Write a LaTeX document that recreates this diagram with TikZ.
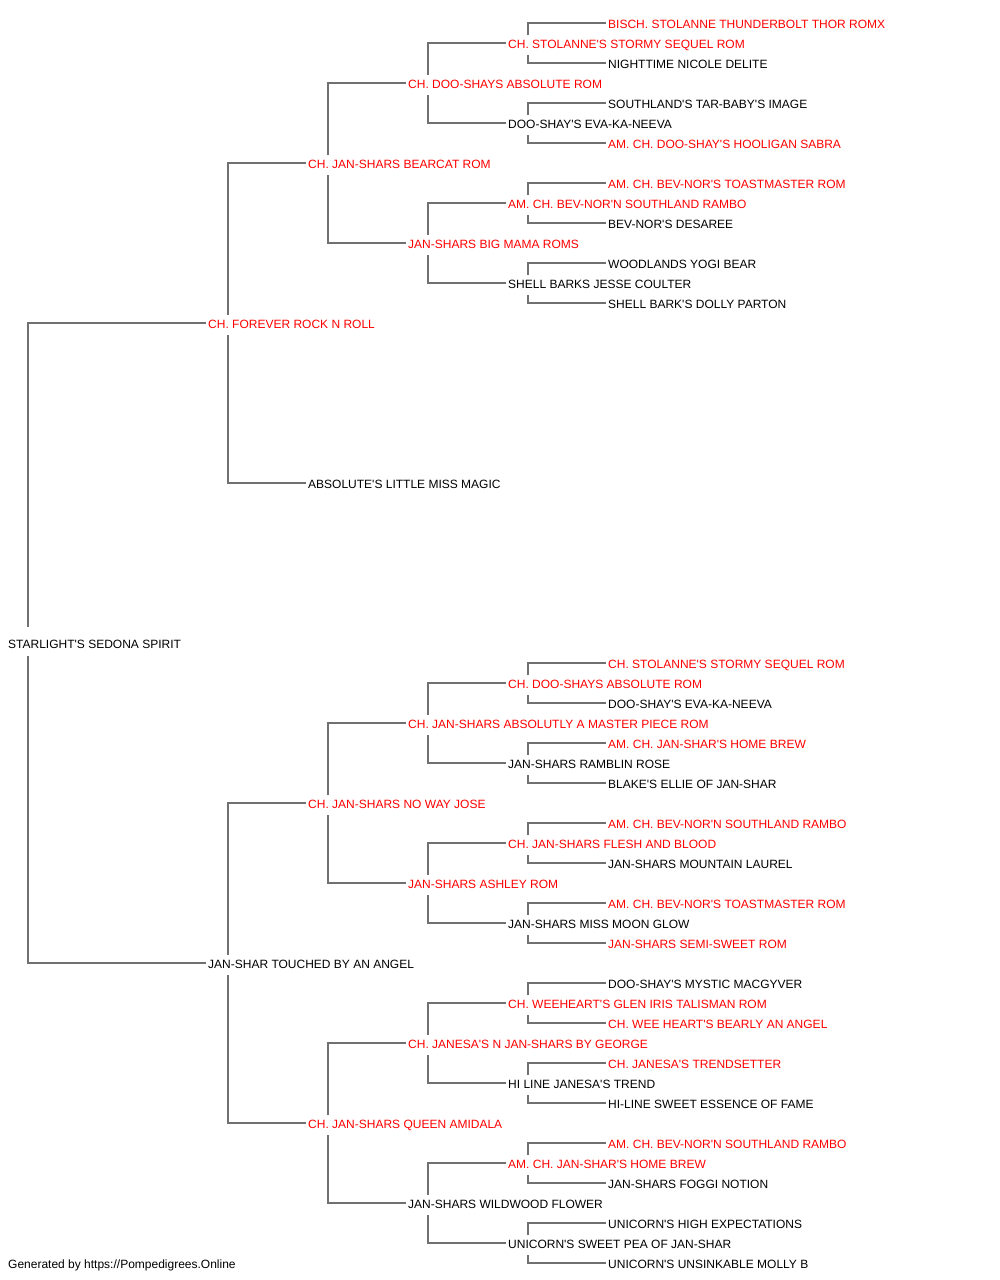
\documentclass[tikz,border=0pt]{standalone}
\usepackage{fontspec}
\setmainfont{Liberation Sans}[Ligatures=TeXOff]
\definecolor{champ}{RGB}{255,0,0}
\definecolor{linegray}{RGB}{112,112,112}

\begin{document}
\begin{tikzpicture}[x=1pt,y=-1pt,
  dog/.style={anchor=west,inner xsep=2pt,inner ysep=4pt,text height=9.3pt,text depth=2.7pt,font=\fontsize{12pt}{14pt}\selectfont},
  ch/.style={dog,text=champ},
  link/.style={draw=linegray,line width=2pt}]
  \useasboundingbox (0,0) rectangle (1000,1280);
  % generation 0 and 1
  \node[dog,text height=17.5pt] (root) at (6,641.5) {STARLIGHT'S SEDONA SPIRIT};
  \node[ch]  (s) at (206,325) {CH. FOREVER ROCK N ROLL};
  \node[dog] (d) at (206,965) {JAN-SHAR TOUCHED BY AN ANGEL};
  % generation 2
  \node[ch]  (ss) at (306,165)  {CH. JAN-SHARS BEARCAT ROM};
  \node[dog] (sd) at (306,485)  {ABSOLUTE'S LITTLE MISS MAGIC};
  \node[ch]  (ds) at (306,805)  {CH. JAN-SHARS NO WAY JOSE};
  \node[ch]  (dd) at (306,1125) {CH. JAN-SHARS QUEEN AMIDALA};
  % generation 3
  \node[ch]  (sss) at (406,85)   {CH. DOO-SHAYS ABSOLUTE ROM};
  \node[ch]  (ssd) at (406,245)  {JAN-SHARS BIG MAMA ROMS};
  \node[ch]  (dss) at (406,725)  {CH. JAN-SHARS ABSOLUTLY A MASTER PIECE ROM};
  \node[ch]  (dsd) at (406,885)  {JAN-SHARS ASHLEY ROM};
  \node[ch]  (dds) at (406,1045) {CH. JANESA'S N JAN-SHARS BY GEORGE};
  \node[dog] (ddd) at (406,1205) {JAN-SHARS WILDWOOD FLOWER};
  % generation 4
  \node[ch]  (ssss) at (506,45)   {CH. STOLANNE'S STORMY SEQUEL ROM};
  \node[dog] (sssd) at (506,125)  {DOO-SHAY'S EVA-KA-NEEVA};
  \node[ch]  (ssds) at (506,205)  {AM. CH. BEV-NOR'N SOUTHLAND RAMBO};
  \node[dog] (ssdd) at (506,285)  {SHELL BARKS JESSE COULTER};
  \node[ch]  (dsss) at (506,685)  {CH. DOO-SHAYS ABSOLUTE ROM};
  \node[dog] (dssd) at (506,765)  {JAN-SHARS RAMBLIN ROSE};
  \node[ch]  (dsds) at (506,845)  {CH. JAN-SHARS FLESH AND BLOOD};
  \node[dog] (dsdd) at (506,925)  {JAN-SHARS MISS MOON GLOW};
  \node[ch]  (ddss) at (506,1005) {CH. WEEHEART'S GLEN IRIS TALISMAN ROM};
  \node[dog] (ddsd) at (506,1085) {HI LINE JANESA'S TREND};
  \node[ch]  (ddds) at (506,1165) {AM. CH. JAN-SHAR'S HOME BREW};
  \node[dog] (dddd) at (506,1245) {UNICORN'S SWEET PEA OF JAN-SHAR};
  % generation 5
  \node[ch]  (sssss) at (606,25)   {BISCH. STOLANNE THUNDERBOLT THOR ROMX};
  \node[dog] (ssssd) at (606,65)   {NIGHTTIME NICOLE DELITE};
  \node[dog] (sssds) at (606,105)  {SOUTHLAND'S TAR-BABY'S IMAGE};
  \node[ch]  (sssdd) at (606,145)  {AM. CH. DOO-SHAY'S HOOLIGAN SABRA};
  \node[ch]  (ssdss) at (606,185)  {AM. CH. BEV-NOR'S TOASTMASTER ROM};
  \node[dog] (ssdsd) at (606,225)  {BEV-NOR'S DESAREE};
  \node[dog] (ssdds) at (606,265)  {WOODLANDS YOGI BEAR};
  \node[dog] (ssddd) at (606,305)  {SHELL BARK'S DOLLY PARTON};
  \node[ch]  (dssss) at (606,665)  {CH. STOLANNE'S STORMY SEQUEL ROM};
  \node[dog] (dsssd) at (606,705)  {DOO-SHAY'S EVA-KA-NEEVA};
  \node[ch]  (dssds) at (606,745)  {AM. CH. JAN-SHAR'S HOME BREW};
  \node[dog] (dssdd) at (606,785)  {BLAKE'S ELLIE OF JAN-SHAR};
  \node[ch]  (dsdss) at (606,825)  {AM. CH. BEV-NOR'N SOUTHLAND RAMBO};
  \node[dog] (dsdsd) at (606,865)  {JAN-SHARS MOUNTAIN LAUREL};
  \node[ch]  (dsdds) at (606,905)  {AM. CH. BEV-NOR'S TOASTMASTER ROM};
  \node[ch]  (dsddd) at (606,945)  {JAN-SHARS SEMI-SWEET ROM};
  \node[dog] (ddsss) at (606,985)  {DOO-SHAY'S MYSTIC MACGYVER};
  \node[ch]  (ddssd) at (606,1025) {CH. WEE HEART'S BEARLY AN ANGEL};
  \node[ch]  (ddsds) at (606,1065) {CH. JANESA'S TRENDSETTER};
  \node[dog] (ddsdd) at (606,1105) {HI-LINE SWEET ESSENCE OF FAME};
  \node[ch]  (dddss) at (606,1145) {AM. CH. BEV-NOR'N SOUTHLAND RAMBO};
  \node[dog] (dddsd) at (606,1185) {JAN-SHARS FOGGI NOTION};
  \node[dog] (dddds) at (606,1225) {UNICORN'S HIGH EXPECTATIONS};
  \node[dog] (ddddd) at (606,1265) {UNICORN'S UNSINKABLE MOLLY B};
  \node[dog] (credit) at (6,1265) {Generated by https://Pompedigrees.Online};
  % sire lines go up, dam lines go down
  \foreach \p/\c in {root/s,s/ss,d/ds,ss/sss,ds/dss,dd/dds,sss/ssss,ssd/ssds,dss/dsss,dsd/dsds,dds/ddss,ddd/ddds,
      ssss/sssss,sssd/sssds,ssds/ssdss,ssdd/ssdds,dsss/dssss,dssd/dssds,dsds/dsdss,dsdd/dsdds,ddss/ddsss,ddsd/ddsds,ddds/dddss,dddd/dddds}
    \draw[link] ([yshift=2.5pt]\c.west) -| ([xshift=22pt]\p.north west);
  \foreach \p/\c in {root/d,s/sd,d/dd,ss/ssd,ds/dsd,dd/ddd,sss/sssd,ssd/ssdd,dss/dssd,dsd/dsdd,dds/ddsd,ddd/dddd,
      ssss/ssssd,sssd/sssdd,ssds/ssdsd,ssdd/ssddd,dsss/dsssd,dssd/dssdd,dsds/dsdsd,dsdd/dsddd,ddss/ddssd,ddsd/ddsdd,ddds/dddsd,dddd/ddddd}
    \draw[link] ([yshift=2.5pt]\c.west) -| ([xshift=22pt]\p.south west);
\end{tikzpicture}
\end{document}
